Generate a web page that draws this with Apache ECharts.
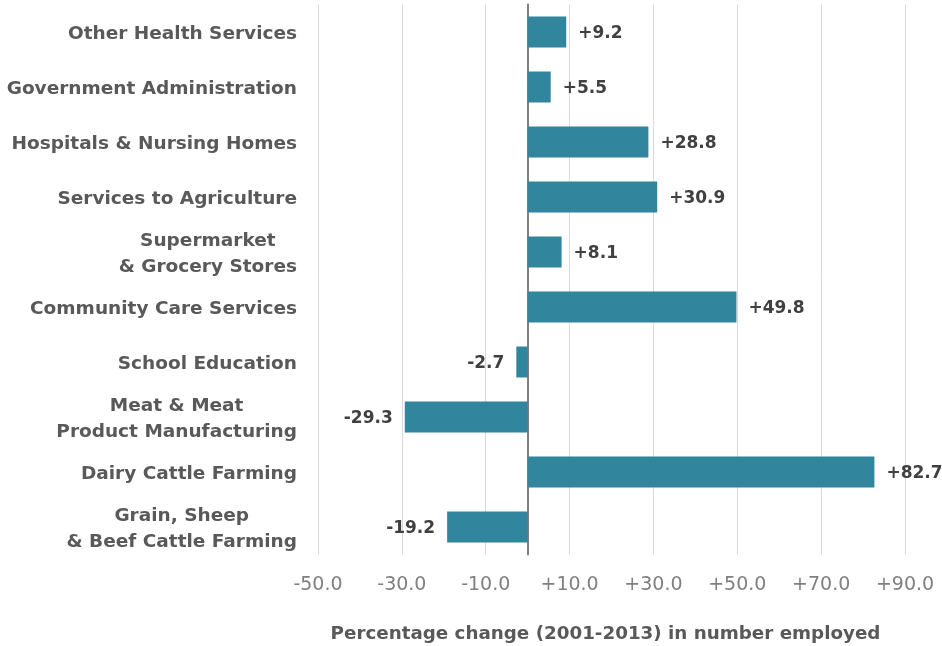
<!DOCTYPE html>
<html>
<head>
<meta charset="utf-8">
<script src="https://cdn.jsdelivr.net/npm/echarts@6/dist/echarts.min.js"></script>
<style>
  html, body { margin: 0; padding: 0; background: #ffffff; }
  #chart { width: 942px; height: 646px; }
</style>
</head>
<body>
<div id="chart"></div>
<script>
// Industries, listed top to bottom
const industries = [
  'Other Health Services',
  'Government Administration',
  'Hospitals & Nursing Homes',
  'Services to Agriculture',
  'Supermarket\n& Grocery Stores',
  'Community Care Services',
  'School Education',
  'Meat & Meat\nProduct Manufacturing',
  'Dairy Cattle Farming',
  'Grain, Sheep\n& Beef Cattle Farming'
];

// Percentage change in number employed, 2001-2013
const changePct = [9.2, 5.5, 28.8, 30.9, 8.1, 49.8, -2.7, -29.3, 82.7, -19.2];

// Value axis range and step
const axisMin = -50;
const axisMax = 90;
const axisStep = 20;

const FONT = '"DejaVu Sans", sans-serif';
const signed = v => (v > 0 ? '+' : '') + Number(v).toFixed(1);

const chart = echarts.init(document.getElementById('chart'), null, { renderer: 'canvas' });

chart.setOption({
  animation: false,
  backgroundColor: '#ffffff',
  grid: {
    left: 318, right: 37, top: 4.5, bottom: 91.5,
    containLabel: false,
    outerBoundsMode: 'none'
  },
  xAxis: {
    type: 'value',
    min: axisMin,
    max: axisMax,
    interval: axisStep,
    axisLine: { show: false },
    axisTick: { show: false },
    splitLine: { show: true, lineStyle: { color: '#d9d9d9', width: 1 } },
    axisLabel: {
      formatter: v => signed(v),
      color: '#808080',
      fontFamily: FONT,
      fontSize: 19,
      margin: 21
    },
    name: 'Percentage change (2001-2013) in number employed',
    nameLocation: 'middle',
    nameGap: 71,
    nameTextStyle: {
      color: '#595959',
      fontFamily: FONT,
      fontWeight: 'bold',
      fontSize: 18.3,
      padding: [0, 12, 0, 0]
    }
  },
  yAxis: {
    type: 'category',
    data: industries,
    inverse: true,
    axisLine: { show: true, onZero: true, lineStyle: { color: '#808080', width: 2 } },
    axisTick: { show: false },
    splitLine: { show: false },
    axisLabel: {
      margin: 21,
      formatter: s => s.split('\n').map(l => '{c|' + l + '}').join('\n'),
      rich: {
        c: {
          align: 'center',
          color: '#595959',
          fontFamily: FONT,
          fontWeight: 'bold',
          fontSize: 18.5,
          lineHeight: 26,
          padding: [5, 0, 0, 0]
        }
      }
    }
  },
  series: [{
    type: 'bar',
    data: changePct.map(v => v < 0
      ? { value: v, label: { position: 'left' } }
      : v),
    barWidth: 31,
    itemStyle: { color: '#31859c' },
    label: {
      show: true,
      position: 'right',
      formatter: p => signed(p.value),
      color: '#404040',
      fontFamily: FONT,
      fontWeight: 'bold',
      fontSize: 17,
      distance: 12,
      offset: [0, 2]
    }
  }]
});
</script>
</body>
</html>
